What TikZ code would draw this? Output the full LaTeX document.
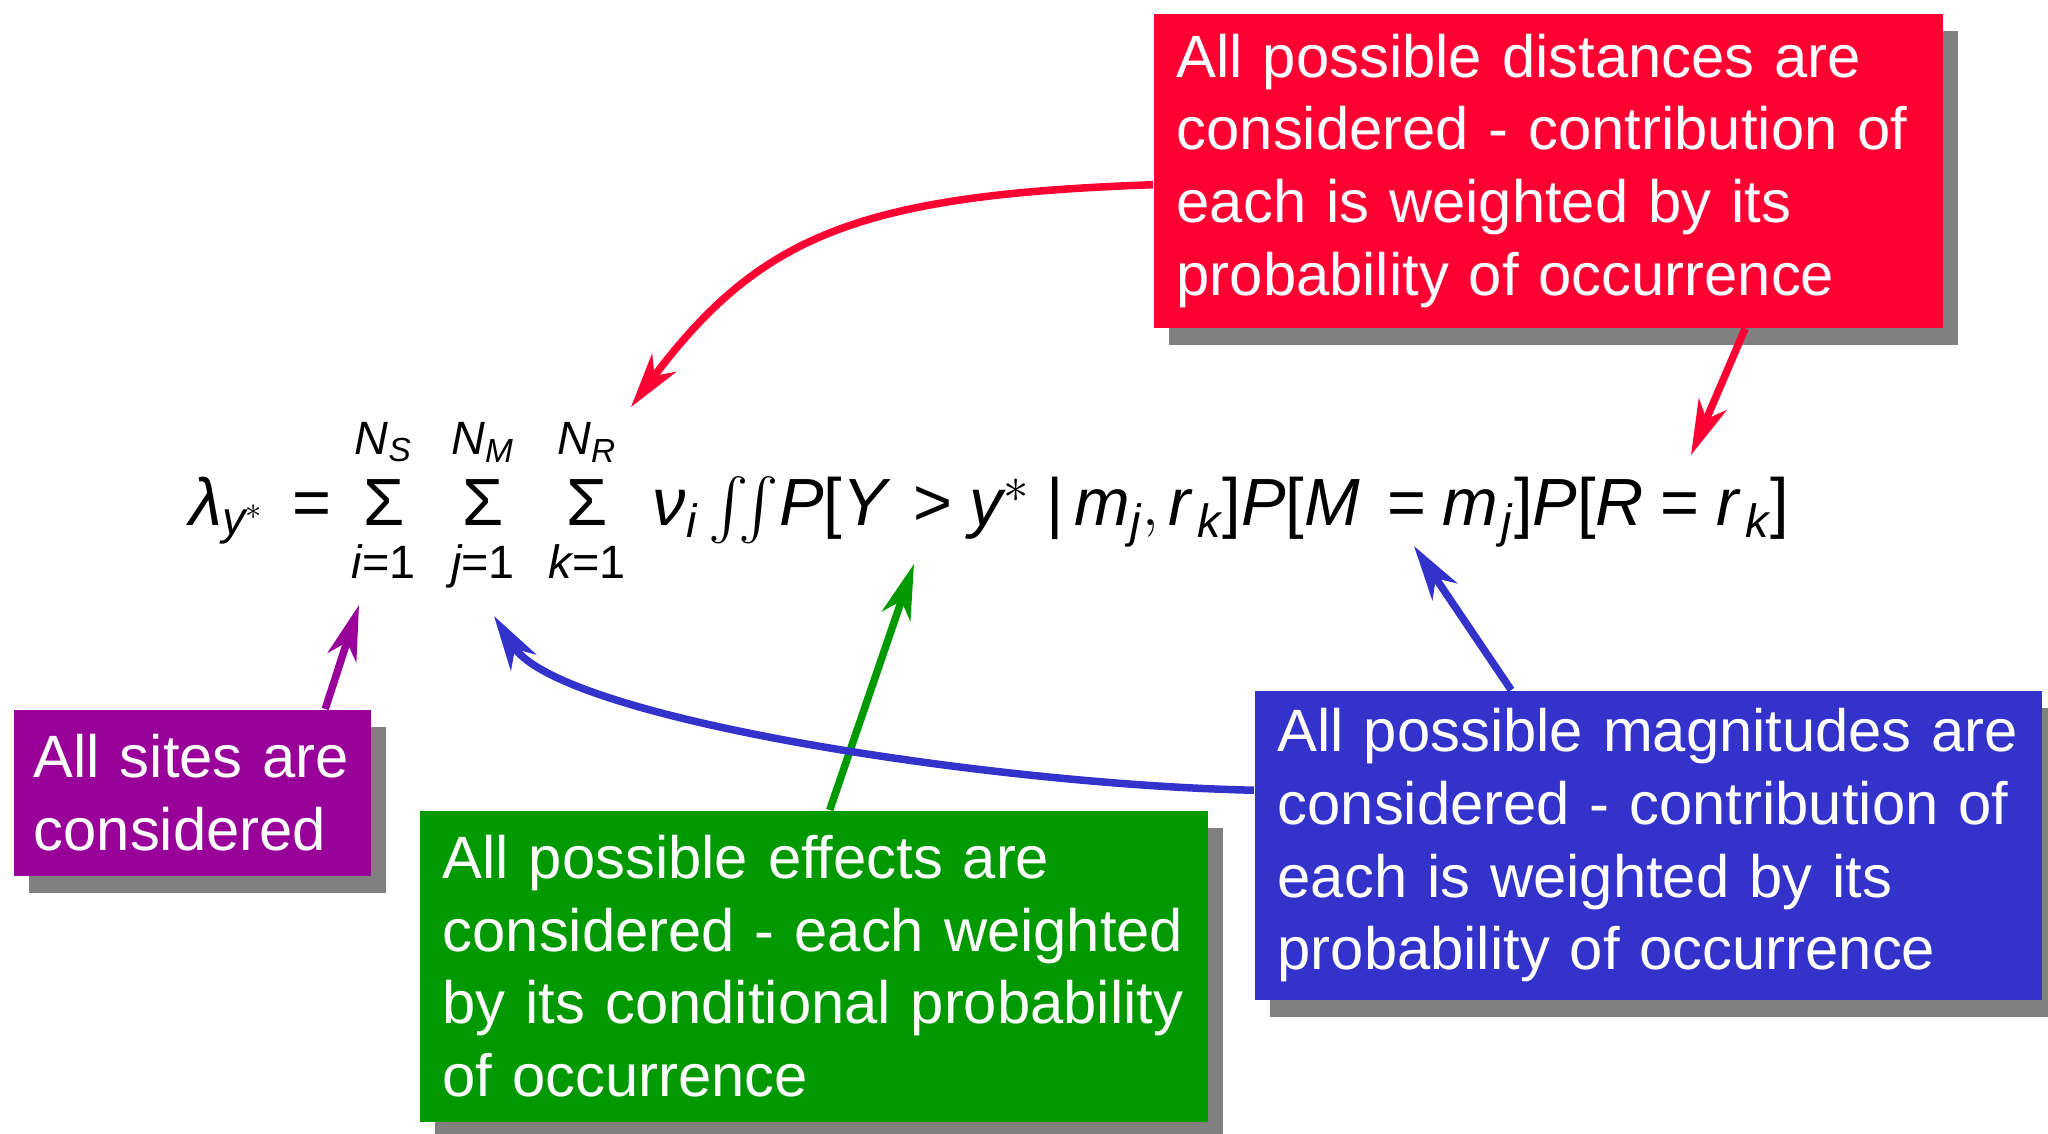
\documentclass[tikz,border=0pt]{standalone}
\usepackage{amsmath}
\usepackage{fontspec}
\setmainfont{Liberation Sans}
\usepackage{tikz}
\usetikzlibrary{arrows.meta,positioning,shadows}
\definecolor{notered}{RGB}{255,0,51}
\definecolor{notepurple}{RGB}{153,0,153}
\definecolor{notegreen}{RGB}{0,153,0}
\definecolor{noteblue}{RGB}{51,51,204}
\definecolor{shadowgray}{RGB}{128,128,128}
\newcommand{\bigsig}{\mathop{\text{\raisebox{0pt}[0.84em][0.14em]{Σ}}}\limits}

\begin{document}
\begin{tikzpicture}[
  note/.style={anchor=north west, text=white, align=left, inner xsep=0.23cm, inner ysep=0pt,
               font=\fontsize{17}{20.7}\selectfont,
               drop shadow={shadow xshift=0.15cm, shadow yshift=-0.17cm, fill=shadowgray, opacity=1}},
  rnote/.style={note, fill=notered, text width=7.43cm, minimum height=3.14cm},
  pnote/.style={note, fill=notepurple, inner xsep=0.2cm, text width=3.17cm, minimum height=1.66cm},
  gnote/.style={note, fill=notegreen, text width=7.42cm, minimum height=3.11cm},
  bnote/.style={note, fill=noteblue, text width=7.41cm, minimum height=3.09cm},
  arr/.style={-{Stealth[length=0.55cm, width=0.3cm, inset=0.16cm]}, line width=0.075cm},
]
\useasboundingbox (0,0) rectangle (20.48,-11.33);

% Equation
\node[anchor=base west, inner sep=0pt, font=\fontsize{19}{23}\selectfont] (eqn) at (1.89,-5.25)
  {$\textit{λ}_{\mathit{y}^{*}}\;\,\text{=}\, \bigsig_{\mathit{i}\text{=1}}^{\mathit{N_S}}\hspace{0.38em}
    \bigsig_{\mathit{j}\text{=1}}^{\mathit{N_M}}\hspace{0.36em}
    \bigsig_{\mathit{k}\text{=1}}^{\mathit{N_R}}\;
    \textit{ν}_{\mathit{i}}\int\!\!\int\! \mathit{P}\text{[}\mathit{Y}\;\,\text{>}\;\mathit{y}^{*}\;\text{|}\,\mathit{m_j},\mathit{r}_{\kern0.1em\mathit{k}}\text{]}
    \mathit{P}\text{[}\mathit{M}\;\,\text{=}\;\mathit{m}_{\kern0.05em\mathit{j}}\text{]}\mathit{P}\text{[}\mathit{R}\;\text{=}\;\mathit{r}_{\kern0.1em\mathit{k}}\text{]}$};

% Arrow targets in the equation
\coordinate (sumr) at (6.31,-4.07);
\coordinate (rk)   at (16.91,-4.55);
\coordinate (sumi) at (3.59,-6.05);
\coordinate (cond) at (9.14,-5.64);
\coordinate (mj)   at (14.14,-5.46);
\coordinate (sumj) at (4.94,-6.16);

% Notes
\node[rnote] (dist) at (11.53,-0.13) {All possible distances are\\considered - contribution of\\each is weighted by its\\probability of occurrence};
\node[pnote] (sites) at (0.13,-7.09) {All sites are\\considered};
\node[gnote] (eff) at (4.19,-8.10) {All possible effects are\\considered - each weighted\\by its conditional probability\\of occurrence};
\node[bnote] (mag) at (12.54,-6.90) {All possible magnitudes are\\considered - contribution of\\each is weighted by its\\probability of occurrence};

% Connectors
\draw[arr, notered] ([yshift=-0.14cm]dist.west) .. controls (8.59,-1.95) and (7.60,-2.35) .. (sumr);
\draw[arr, notered] ([xshift=1.97cm]dist.south) -- (rk);
\draw[arr, notepurple] ([xshift=1.33cm]sites.north) -- (sumi);
\draw[arr, notegreen] ([xshift=0.16cm]eff.north) -- (cond);
\draw[arr, noteblue] ([xshift=-1.37cm]mag.north) -- (mj);
\draw[arr, noteblue] ([yshift=0.55cm]mag.west) .. controls (10.0,-7.85) and (5.6,-7.2) .. (sumj);
\end{tikzpicture}
\end{document}
